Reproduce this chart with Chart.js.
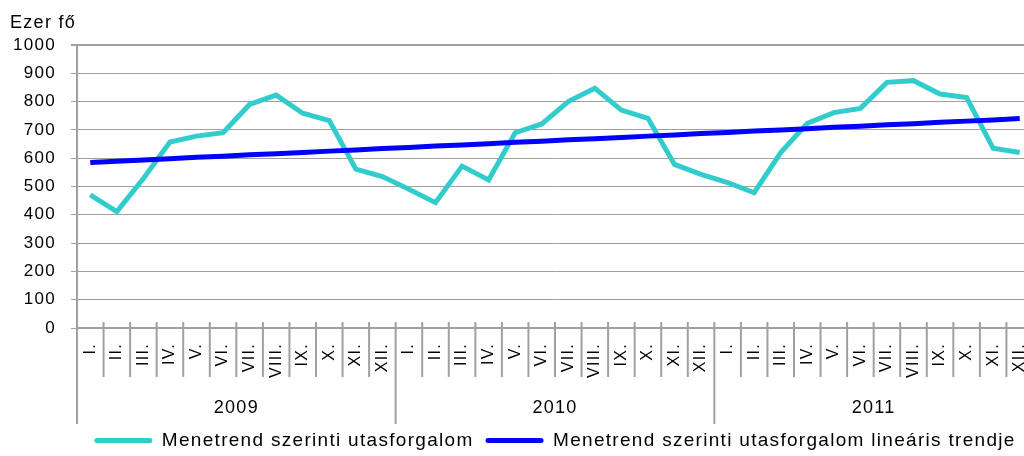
<!DOCTYPE html>
<html>
<head>
<meta charset="utf-8">
<script src="https://cdn.jsdelivr.net/npm/chart.js@4.4.1/dist/chart.umd.min.js"></script>
<style>
html,body{margin:0;padding:0;overflow:hidden;background:#fff;width:1024px;height:456px}
canvas{display:block}
</style>
</head>
<body>
<canvas id="c" width="1036" height="456"></canvas>
<script>
const years = ['2009', '2010', '2011'];
const months = ['I.', 'II.', 'III.', 'IV.', 'V.', 'VI.', 'VII.', 'VIII.', 'IX.', 'X.', 'XI.', 'XII.'];
const passengers = [
  470, 411, 528, 657, 678, 690, 790, 823, 759, 733, 561, 535,
  490, 443, 572, 523, 690, 721, 800, 847, 770, 741, 578, 543,
  514, 478, 620, 723, 761, 776, 868, 874, 827, 814, 635, 620
];
const trend = [
  585, 589, 594, 598, 603, 607, 612, 616, 620, 625, 629, 634,
  638, 643, 647, 651, 656, 660, 665, 669, 673, 678, 682, 687,
  691, 696, 700, 704, 709, 713, 718, 722, 727, 731, 735, 740
];
const seriesNames = ['Menetrend szerinti utasforgalom', 'Menetrend szerinti utasforgalom lineáris trendje'];
const unitLabel = 'Ezer fő';
const yMin = 0, yMax = 1000, yStep = 100;

const labels = years.flatMap(() => months);
const FONT = "'Liberation Sans', Arial, sans-serif";
const SPACING = '1.3px';
Chart.defaults.font.family = FONT;
Chart.defaults.color = '#000';

const spacingPlugin = {
  id: 'spacing',
  beforeUpdate(c) { c.ctx.letterSpacing = SPACING; },
  beforeLayout(c) { c.ctx.letterSpacing = SPACING; },
  beforeDraw(c) { c.ctx.letterSpacing = SPACING; }
};

const decorPlugin = {
  id: 'decor',
  afterDraw(chart) {
    const ctx = chart.ctx, x = chart.scales.x, area = chart.chartArea;
    ctx.save();
    ctx.strokeStyle = '#a0a0a0';
    ctx.lineWidth = 2;
    for (let i = 0; i <= labels.length; i++) {
      const px = x.getPixelForValue(i - 0.5);
      const isYear = i % months.length === 0;
      ctx.beginPath();
      ctx.moveTo(px, area.bottom - 6);
      ctx.lineTo(px, area.bottom + (isYear ? 96 : 49));
      ctx.stroke();
    }
    ctx.fillStyle = '#000';
    ctx.font = '18px ' + FONT;
    ctx.textAlign = 'center';
    ctx.textBaseline = 'middle';
    years.forEach((yr, k) => {
      const a = x.getPixelForValue(k * months.length - 0.5);
      const b = x.getPixelForValue(k * months.length + months.length - 0.5);
      ctx.fillText(yr, (a + b) / 2, area.bottom + 80);
    });
    ctx.textAlign = 'left';
    ctx.textBaseline = 'alphabetic';
    ctx.fillText(unitLabel, 10, 28);
    ctx.restore();
  }
};

new Chart(document.getElementById('c'), {
  type: 'line',
  data: {
    labels,
    datasets: [
      { label: seriesNames[0], data: passengers, borderColor: '#33CCCC', backgroundColor: '#33CCCC',
        borderWidth: 5, pointRadius: 0, tension: 0, order: 1 },
      { label: seriesNames[1], data: trend, borderColor: '#0000FF', backgroundColor: '#0000FF',
        borderWidth: 5, pointRadius: 0, tension: 0, order: 0 }
    ]
  },
  options: {
    responsive: false,
    animation: false,
    layout: { padding: { top: 45, right: 3, left: 0, bottom: 0 } },
    plugins: {
      legend: {
        position: 'bottom', fullSize: false, maxHeight: 37,
        labels: {
          boxWidth: 58, boxHeight: 5, padding: 12, useBorderRadius: true, borderRadius: 2.5,
          font: { size: 19 }, color: '#000',
          sort: (a, b) => a.datasetIndex - b.datasetIndex,
          generateLabels(chart) {
            return Chart.defaults.plugins.legend.labels.generateLabels(chart).map(l => ({
              ...l, lineWidth: 0, fillStyle: chart.data.datasets[l.datasetIndex].borderColor
            }));
          }
        }
      },
      tooltip: { enabled: false }
    },
    scales: {
      x: {
        offset: true,
        grid: { display: false },
        border: { display: true, color: '#a0a0a0', width: 2 },
        ticks: { autoSkip: false, maxRotation: 90, minRotation: 90, padding: 7, font: { size: 16 }, color: '#000' },
        afterFit(s) { s.height = 91; s.paddingLeft = 0; s.paddingRight = 0; }
      },
      y: {
        min: yMin, max: yMax,
        ticks: { stepSize: yStep, padding: 15, font: { size: 17 }, color: '#000', callback: v => String(v) },
        grid: { color: '#a0a0a0', lineWidth: c => (c.tick && c.tick.value === yMax ? 2 : 1), tickLength: 6, drawTicks: true },
        border: { display: true, color: '#a0a0a0', width: 2 },
        afterFit(s) { s.width = 77; s.paddingTop = 0; s.paddingBottom = 0; }
      }
    }
  },
  plugins: [spacingPlugin, decorPlugin]
});
</script>
</body>
</html>
